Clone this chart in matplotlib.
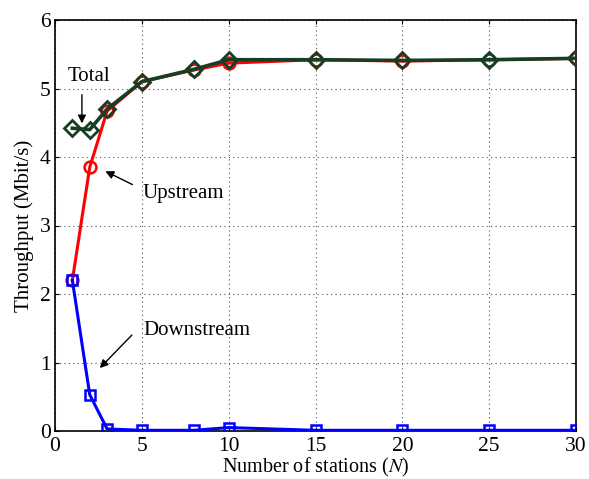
"""Throughput vs. number of stations: upstream, downstream and total."""

import matplotlib
matplotlib.use("Agg")
import matplotlib.pyplot as plt

plt.rcParams["font.family"] = ["Liberation Serif", "DejaVu Serif"]
plt.rcParams["mathtext.fontset"] = "stix"

stations = [1, 2, 3, 5, 8, 10, 15, 20, 25, 30]
total = [4.42, 4.40, 4.70, 5.10, 5.28, 5.42, 5.42, 5.41, 5.42, 5.44]
upstream = [2.20, 3.85, 4.67, 5.10, 5.27, 5.37, 5.42, 5.40, 5.42, 5.44]
downstream = [2.20, 0.53, 0.03, 0.01, 0.01, 0.05, 0.01, 0.01, 0.01, 0.01]

fig = plt.figure(figsize=(5.89, 4.79), dpi=100)
ax = fig.add_axes([55 / 589, 48 / 479, 521 / 589, 411 / 479])

ax.plot(stations, upstream, color="#ff0000", lw=2.2, marker="o", ms=8.5,
        mfc="none", mec="#ff0000", mew=1.8, zorder=3)
ax.plot(stations, downstream, color="#0000ff", lw=2.2, marker="s", ms=7.5,
        mfc="none", mec="#0000ff", mew=1.8, zorder=3)
ax.plot(stations, total, color="#173d24", lw=2.6, marker="D", ms=8,
        mfc="none", mec="#173d24", mew=2.0, zorder=4)

ax.set_xlim(0, 30)
ax.set_ylim(0, 6)
ax.set_xticks([0, 5, 10, 15, 20, 25, 30])
ax.set_yticks([0, 1, 2, 3, 4, 5, 6])
ax.grid(True, linestyle=(0, (1, 3)), color="#555555", linewidth=0.8)
ax.tick_params(direction="in", labelsize=15.5, top=True, right=True, length=3)
ax.tick_params(axis="x", pad=4)
ax.tick_params(axis="y", pad=3)
for s in ax.spines.values():
    s.set_linewidth(1.2)

ax.set_xlabel("Number of stations ($\\mathit{N}$)", fontsize=14.5, va="baseline")
ax.xaxis.set_label_coords(0.5, -0.102)
ax.set_ylabel("Throughput (Mbit/s)", fontsize=15, labelpad=4)

arrow = dict(arrowstyle="-|>", color="black", lw=1.0, mutation_scale=12)
ax.annotate("", xy=(1.55, 4.45), xytext=(1.55, 4.95), arrowprops=arrow)
ax.text(0.7, 5.18, "Total", fontsize=15, va="center")
ax.annotate("", xy=(2.76, 3.81), xytext=(4.6, 3.58), arrowprops=arrow)
ax.text(5.06, 3.47, "Upstream", fontsize=15, va="center")
ax.annotate("", xy=(2.47, 0.89), xytext=(4.54, 1.43), arrowprops=arrow)
ax.text(5.06, 1.47, "Downstream", fontsize=15, va="center")

fig.savefig("out.png", dpi=100)
